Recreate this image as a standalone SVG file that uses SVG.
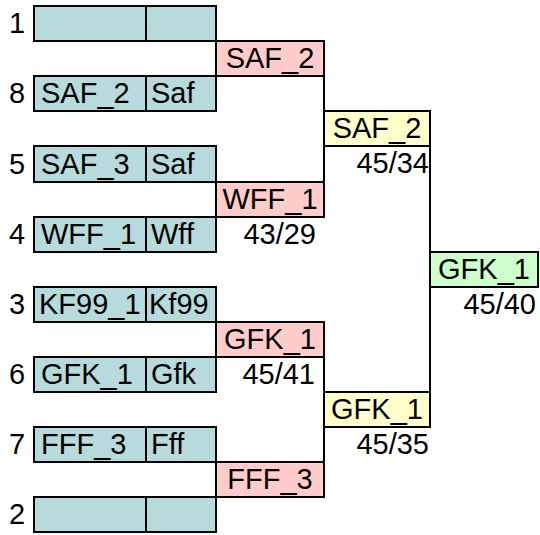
<svg xmlns="http://www.w3.org/2000/svg" width="540" height="535" viewBox="0 0 540 535">
<style>
text{font-family:"Liberation Sans",Arial,sans-serif;font-size:29px;fill:#000}
.seed{fill:#B7DADC;stroke:#000;stroke-width:2}
.r1{fill:#FFCCCC;stroke:#000;stroke-width:2}
.r2{fill:#FFFFCC;stroke:#000;stroke-width:2}
.r3{fill:#CCFFCC;stroke:#000;stroke-width:2}
.c{text-anchor:middle}
.e{text-anchor:end}
.ln{stroke:#000;stroke-width:2;fill:none}
</style>
<rect width="540" height="535" fill="#fff"/>
<g id="connectors">
<line class="ln" x1="324" y1="76" x2="324" y2="182"/>
<line class="ln" x1="430" y1="146" x2="430" y2="392"/>
<line class="ln" x1="324" y1="357" x2="324" y2="462"/>
</g>
<g id="seed1"><text x="9" y="33">1</text><rect class="seed" x="34" y="6" width="112" height="35"/><rect class="seed" x="146" y="6" width="70" height="35"/></g>
<g id="seed8"><text x="9" y="103">8</text><rect class="seed" x="34" y="76" width="112" height="35"/><rect class="seed" x="146" y="76" width="70" height="35"/><text x="41" y="103">SAF_2</text><text x="151" y="103">Saf</text></g>
<g id="seed5"><text x="9" y="174">5</text><rect class="seed" x="34" y="146" width="112" height="36"/><rect class="seed" x="146" y="146" width="70" height="36"/><text x="41" y="174">SAF_3</text><text x="151" y="174">Saf</text></g>
<g id="seed4"><text x="9" y="244">4</text><rect class="seed" x="34" y="217" width="112" height="35"/><rect class="seed" x="146" y="217" width="70" height="35"/><text x="41" y="244">WFF_1</text><text x="151" y="244">Wff</text></g>
<g id="seed3"><text x="9" y="314">3</text><rect class="seed" x="34" y="287" width="112" height="35"/><rect class="seed" x="146" y="287" width="70" height="35"/><text x="39" y="314">KF99_1</text><text x="149" y="314">Kf99</text></g>
<g id="seed6"><text x="9" y="384">6</text><rect class="seed" x="34" y="357" width="112" height="35"/><rect class="seed" x="146" y="357" width="70" height="35"/><text x="41" y="384">GFK_1</text><text x="151" y="384">Gfk</text></g>
<g id="seed7"><text x="9" y="454">7</text><rect class="seed" x="34" y="427" width="112" height="35"/><rect class="seed" x="146" y="427" width="70" height="35"/><text x="41" y="454">FFF_3</text><text x="151" y="454">Fff</text></g>
<g id="seed2"><text x="9" y="524">2</text><rect class="seed" x="34" y="497" width="112" height="35"/><rect class="seed" x="146" y="497" width="70" height="35"/></g>
<g id="r1a"><rect class="r1" x="216" y="41" width="108" height="35"/><text class="c" x="270" y="68">SAF_2</text></g>
<g id="r1b"><rect class="r1" x="216" y="182" width="108" height="35"/><text class="c" x="270" y="209">WFF_1</text><text class="e" x="316" y="244">43/29</text></g>
<g id="r1c"><rect class="r1" x="216" y="322" width="108" height="35"/><text class="c" x="270" y="349">GFK_1</text><text class="e" x="315" y="384">45/41</text></g>
<g id="r1d"><rect class="r1" x="216" y="462" width="108" height="35"/><text class="c" x="270" y="489">FFF_3</text></g>
<g id="r2a"><rect class="r2" x="324" y="111" width="106" height="35"/><text class="c" x="377" y="138">SAF_2</text><text class="e" x="429" y="173">45/34</text></g>
<g id="r2b"><rect class="r2" x="324" y="392" width="106" height="35"/><text class="c" x="377" y="419">GFK_1</text><text class="e" x="429" y="454">45/35</text></g>
<g id="final"><rect class="r3" x="430" y="252" width="108" height="35"/><text class="c" x="484" y="279">GFK_1</text><text class="e" x="536" y="314">45/40</text></g>
</svg>
